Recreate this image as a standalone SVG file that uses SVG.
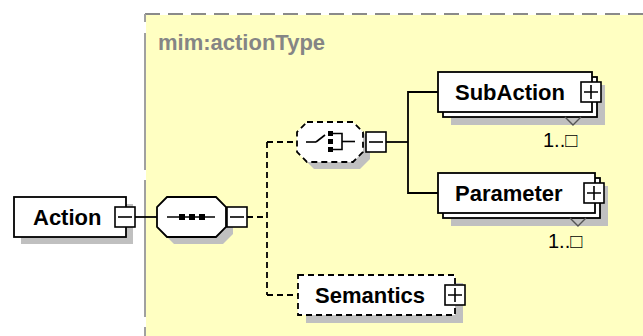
<svg xmlns="http://www.w3.org/2000/svg" width="643" height="336" viewBox="0 0 643 336">
  <style>
    .box { fill: #ffffff; stroke: #000000; stroke-width: 1.8; }
    .dbox { fill: #ffffff; stroke: #000000; stroke-width: 1.8; stroke-dasharray: 6,4; }
    .shadow { fill: #c0c0c0; stroke: none; }
    .tog { fill: #ffffff; stroke: #000000; stroke-width: 1.6; }
    .sign { stroke: #000000; stroke-width: 1.6; fill: none; }
    .label { font-family: "Liberation Sans", Arial, sans-serif; font-weight: bold; font-size: 22px; fill: #000000; }
    .occurs { font-family: "Liberation Sans", "DejaVu Sans", Arial, sans-serif; font-size: 20px; fill: #000000; }
    .wire { stroke: #000000; stroke-width: 1.8; fill: none; }
    .dwire { stroke: #000000; stroke-width: 1.8; fill: none; stroke-dasharray: 6,4; }
    .rep { stroke: #555555; stroke-width: 1.4; fill: none; }
  </style>

  <rect width="643" height="336" fill="#ffffff"/>

  <!-- complex type area -->
  <g id="typeArea">
    <rect x="146" y="15" width="497" height="321" fill="#ffffc2"/>
    <line x1="145" y1="14" x2="643" y2="14" stroke="#8a8a8a" stroke-width="2" stroke-dasharray="15,8"/>
    <path d="M145 14V22M145 33V170M145 180V317M145 327V336" stroke="#a0a0a0" stroke-width="2" fill="none"/>
    <text x="158" y="50" class="label" style="fill:#858585">mim:actionType</text>
  </g>

  <!-- connectors -->
  <g id="connectors">
    <line class="wire" x1="135" y1="217" x2="157" y2="217"/>
    <line class="dwire" x1="247" y1="217" x2="267" y2="217"/>
    <line class="dwire" x1="267" y1="142" x2="267" y2="295"/>
    <line class="dwire" x1="267" y1="142" x2="297" y2="142"/>
    <line class="dwire" x1="267" y1="295" x2="298" y2="295"/>
    <line class="wire" x1="386" y1="142" x2="408" y2="142"/>
    <polyline class="wire" points="438,92 408,92 408,193 438,193"/>
  </g>

  <!-- Action element -->
  <g id="Action">
    <rect class="shadow" x="21" y="204" width="112" height="40"/>
    <rect class="box" x="14" y="197" width="112" height="40"/>
    <text x="33" y="225" class="label">Action</text>
    <rect class="tog" x="115" y="207" width="20" height="20"/>
    <line class="sign" x1="118" y1="217" x2="132" y2="217"/>
  </g>

  <!-- sequence compositor -->
  <g id="sequence">
    <polygon class="shadow" points="174,204 223,204 233,214 233,234 223,244 174,244 164,234 164,214"/>
    <polygon class="box" points="167,197 216,197 226,207 226,227 216,237 167,237 157,227 157,207"/>
    <line class="sign" x1="167" y1="217" x2="215" y2="217"/>
    <rect x="179" y="214" width="6" height="6" fill="#000000"/>
    <rect x="189" y="214" width="6" height="6" fill="#000000"/>
    <rect x="199" y="214" width="6" height="6" fill="#000000"/>
    <rect class="tog" x="227" y="207" width="20" height="20"/>
    <line class="sign" x1="230" y1="217" x2="244" y2="217"/>
  </g>

  <!-- choice compositor -->
  <g id="choice">
    <polygon class="shadow" points="314,129 360,129 370,139 370,159 360,169 314,169 304,159 304,139"/>
    <polygon class="dbox" points="307,122 353,122 363,132 363,152 353,162 307,162 297,152 297,132"/>
    <line class="sign" x1="306" y1="142" x2="316" y2="142"/>
    <line class="sign" x1="316" y1="142" x2="325" y2="135"/>
    <rect x="328" y="131" width="5" height="5" fill="#000000"/>
    <rect x="328" y="139" width="5" height="5" fill="#000000"/>
    <rect x="328" y="147" width="5" height="5" fill="#000000"/>
    <polyline class="sign" points="333,133.5 342,133.5 342,149.5 333,149.5"/>
    <line class="sign" x1="342" y1="141.5" x2="355" y2="141.5"/>
    <rect class="tog" x="366" y="132" width="20" height="20"/>
    <line class="sign" x1="369" y1="142" x2="383" y2="142"/>
  </g>

  <!-- SubAction element (repeating) -->
  <g id="SubAction">
    <rect class="shadow" x="451" y="85" width="154" height="40"/>
    <rect class="box" x="443" y="77" width="154" height="40"/>
    <rect class="box" x="438" y="72" width="154" height="40"/>
    <text x="455" y="100" class="label">SubAction</text>
    <rect class="tog" x="581" y="82" width="20" height="20"/>
    <path class="sign" d="M584 92H598M591 85V99"/>
    <polyline class="rep" points="565,117 573,125 581,117"/>
    <text x="543" y="147" class="occurs">1..□</text>
  </g>

  <!-- Parameter element (repeating) -->
  <g id="Parameter">
    <rect class="shadow" x="451" y="186" width="157" height="40"/>
    <rect class="box" x="443" y="178" width="157" height="40"/>
    <rect class="box" x="438" y="173" width="157" height="40"/>
    <text x="455" y="201" class="label">Parameter</text>
    <rect class="tog" x="584" y="183" width="20" height="20"/>
    <path class="sign" d="M587 193H601M594 186V200"/>
    <polyline class="rep" points="570,218 578,226 586,218"/>
    <text x="548" y="248" class="occurs">1..□</text>
  </g>

  <!-- Semantics element (optional) -->
  <g id="Semantics">
    <rect class="shadow" x="306" y="283" width="157" height="40"/>
    <rect class="dbox" x="298" y="275" width="157" height="40"/>
    <text x="315" y="303" class="label">Semantics</text>
    <rect class="tog" x="445" y="285" width="20" height="20"/>
    <path class="sign" d="M448 295H462M455 288V302"/>
  </g>
</svg>
